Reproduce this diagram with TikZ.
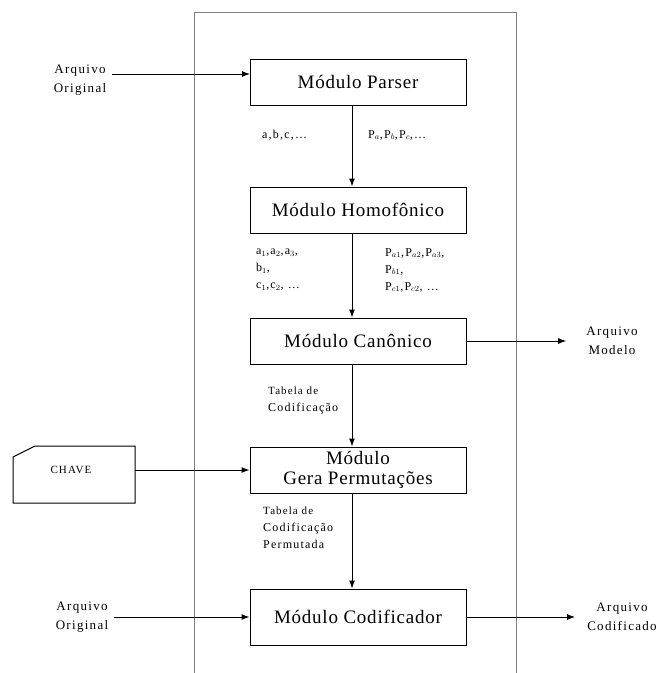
\documentclass[tikz,border=0pt]{standalone}
\usepackage{fontspec}
\setmainfont{Liberation Serif}
\newfontfamily\spaced[LetterSpace=10]{Liberation Serif}
\newfontfamily\boxfont[LetterSpace=4]{Liberation Serif}
\usetikzlibrary{arrows.meta}
\begin{document}
\begin{tikzpicture}[x=1pt, y=-1pt, >={Latex[length=8pt,width=6pt]}]
\useasboundingbox (0,0) rectangle (662,673);
% frame
\draw[gray, line width=0.8pt] (194,673) -- (194,12) -- (516,12) -- (516,673);
\begin{scope}[every node/.style = {draw, line width=1pt, minimum width=216pt, minimum height=46pt, align=center, inner sep=0pt, font=\boxfont\fontsize{19}{20}\selectfont}]
\node (parser) at (358,82) {Módulo Parser};
\node (homof) at (358,210) {Módulo Homofônico};
\node (canon) at (358,341) {Módulo Canônico};
\node (gera) at (358,470) {Módulo\\Gera Permutações};
\node[minimum height=56pt] (codif) at (358,617) {Módulo Codificador};
\end{scope}
\draw[line width=1pt] (13,457) -- (35,446) -- (135,446) -- (135,503) -- (13,503) -- cycle;
\coordinate (chave) at (135,470);
\coordinate (p1) at (250,74);
\begin{scope}[every node/.style = {align=center, inner sep=0pt, font=\spaced\fontsize{13}{19}\selectfont}]
\node (chtxt) at (71,470) {\fontsize{11}{12}\selectfont CHAVE};
\node (orig1) at (80,80) {Arquivo\\Original};
\node (orig2) at (82,617) {Arquivo\\Original};
\node (modelo) at (612,341) {Arquivo\\Modelo};
\node (codout) at (622,617) {Arquivo\\Codificado};
\end{scope}
\begin{scope}[every node/.style = {align=left, anchor=west, inner sep=0pt, font=\spaced\fontsize{12}{17}\selectfont}]
\node (l1) at (262,135) {a,b,c,\dots};
\node (l2) at (368,135) {P$_a$,P$_b$,P$_c$,\dots};
\node (l3) at (256,270) {a$_1$,a$_2$,a$_3$,\\b$_1$,\\c$_1$,c$_2$, \dots};
\node (l4) at (385,270) {P$_{a1}$,P$_{a2}$,P$_{a3}$,\\P$_{b1}$,\\P$_{c1}$,P$_{c2}$, \dots};
\node (l5) at (268,400) {\fontsize{11}{14}\selectfont Tabela de\\Codificação};
\node (l6) at (263,528) {\fontsize{11}{15}\selectfont Tabela de\\Codificação\\Permutada};
\end{scope}
\begin{scope}[every edge/.style = {draw, line width=1pt, ->}]
\path ([xshift=-6pt]parser.south) edge ([xshift=-6pt]homof.north);
\path ([xshift=-6pt]homof.south) edge ([xshift=-6pt]canon.north);
\path ([xshift=-6pt]canon.south) edge ([xshift=-6pt]gera.north);
\path ([xshift=-6pt]gera.south) edge ([xshift=-6pt]codif.north);
\path (orig1.east |- p1) edge[shorten <=6pt] (p1);
\path (orig2) edge[shorten <=6pt] (codif);
\path (chave) edge (gera);
\path (canon) edge[shorten >=20pt] (modelo);
\path (codif) edge[shorten >=12pt] (codout);
\end{scope}
\end{tikzpicture}
\end{document}
